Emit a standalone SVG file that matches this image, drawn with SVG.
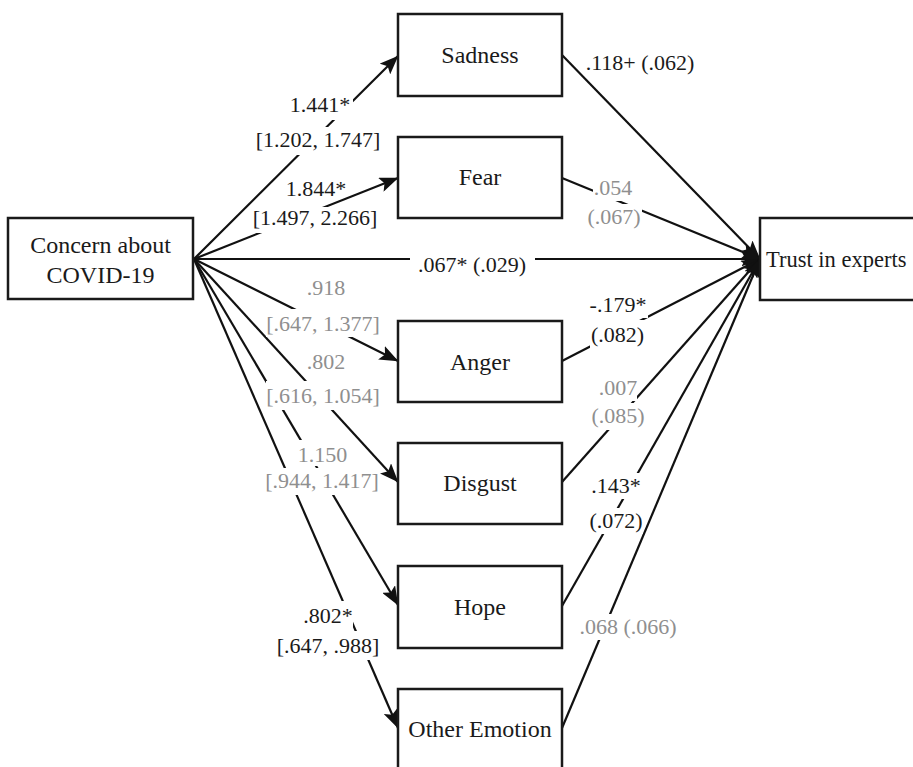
<svg xmlns="http://www.w3.org/2000/svg" width="913" height="767" viewBox="0 0 913 767">
<defs>
<style>
.box{fill:#fff;stroke:#1a1a1a;stroke-width:2.5}
.nl{font-family:"Liberation Serif","Times New Roman",serif;font-size:24px;fill:#1a1a1a;text-anchor:middle}
.el{font-family:"Liberation Serif","Times New Roman",serif;font-size:22px;text-anchor:middle}
.sig{fill:#1a1a1a}
.ns{fill:#8f8f8f}
.conn line{stroke:#111;stroke-width:2.2;marker-end:url(#ah)}
.bg{fill:#fff}
</style>
<marker id="ah" markerUnits="userSpaceOnUse" viewBox="0 0 19 15" markerWidth="19" markerHeight="15" refX="18.5" refY="7.5" orient="auto">
<path d="M0,0 L19,7.5 L0,15 L4,7.5 Z" fill="#111"/>
</marker>
</defs>
<rect width="913" height="767" fill="#fff"/>
<g id="connectors" class="conn">
<line x1="194" y1="259" x2="398" y2="56"/>
<line x1="194" y1="259" x2="398" y2="178"/>
<line x1="194" y1="259" x2="760" y2="259"/>
<line x1="194" y1="259" x2="398" y2="361"/>
<line x1="194" y1="259" x2="398" y2="482"/>
<line x1="194" y1="259" x2="398" y2="605"/>
<line x1="194" y1="259" x2="398" y2="728"/>
<line x1="562" y1="55" x2="760" y2="259"/>
<line x1="562" y1="178" x2="760" y2="259"/>
<line x1="562" y1="361" x2="760" y2="259"/>
<line x1="562" y1="482" x2="760" y2="259"/>
<line x1="562" y1="606" x2="760" y2="259"/>
<line x1="562" y1="728" x2="760" y2="259"/>
</g>
<g id="edge-labels">
<rect class="bg" x="287" y="94" width="66" height="26"/>
<text class="el sig" x="320" y="112">1.441*</text>
<rect class="bg" x="253" y="127" width="130" height="28"/>
<text class="el sig" x="318" y="147">[1.202, 1.747]</text>
<rect class="bg" x="285" y="178" width="57" height="21"/>
<text class="el sig" x="316" y="196">1.844*</text>
<rect class="bg" x="252" y="207" width="126" height="26"/>
<text class="el sig" x="315" y="225">[1.497, 2.266]</text>
<rect class="bg" x="410" y="251" width="125" height="27"/>
<text class="el sig" x="472" y="272">.067* (.029)</text>
<text class="el sig" x="640" y="70">.118+ (.062)</text>
<rect class="bg" x="593" y="175" width="40" height="26"/>
<text class="el ns" x="613" y="195">.054</text>
<rect class="bg" x="586" y="204" width="56" height="26"/>
<text class="el ns" x="614" y="224">(.067)</text>
<rect class="bg" x="305" y="275" width="42" height="26"/>
<text class="el ns" x="326" y="295">.918</text>
<rect class="bg" x="266" y="309" width="114" height="28"/>
<text class="el ns" x="323" y="331">[.647, 1.377]</text>
<rect class="bg" x="305" y="349" width="42" height="26"/>
<text class="el ns" x="326" y="369">.802</text>
<rect class="bg" x="266" y="381" width="114" height="29"/>
<text class="el ns" x="323" y="403">[.616, 1.054]</text>
<rect class="bg" x="296" y="440" width="53" height="26"/>
<text class="el ns" x="322.5" y="462">1.150</text>
<rect class="bg" x="265" y="468" width="114" height="27"/>
<text class="el ns" x="322" y="488">[.944, 1.417]</text>
<rect class="bg" x="588" y="292" width="60" height="26"/>
<text class="el sig" x="618" y="312">-.179*</text>
<rect class="bg" x="590" y="320" width="55" height="28"/>
<text class="el sig" x="617.5" y="342">(.082)</text>
<rect class="bg" x="599" y="375" width="38" height="26"/>
<text class="el ns" x="618" y="395">.007</text>
<rect class="bg" x="590" y="403" width="56" height="27"/>
<text class="el ns" x="618" y="423">(.085)</text>
<rect class="bg" x="591" y="473" width="50" height="26"/>
<text class="el sig" x="616" y="493">.143*</text>
<rect class="bg" x="589" y="508" width="54" height="26"/>
<text class="el sig" x="616" y="528">(.072)</text>
<rect class="bg" x="579" y="614" width="98" height="26"/>
<text class="el ns" x="628" y="634">.068 (.066)</text>
<rect class="bg" x="303" y="601" width="50" height="28"/>
<text class="el sig" x="328" y="623">.802*</text>
<rect class="bg" x="276" y="631" width="104" height="29"/>
<text class="el sig" x="328" y="653">[.647, .988]</text>
</g>
<g id="node-concern">
<rect class="box" x="8" y="218" width="185" height="81"/>
<text class="nl" x="100.5" y="253">Concern about</text>
<text class="nl" x="100.5" y="283">COVID-19</text>
</g>
<g id="node-trust">
<rect class="box" x="760" y="218" width="170" height="82"/>
<text class="nl" x="766" y="267" style="text-anchor:start;font-size:22.5px">Trust in experts</text>
</g>
<g id="node-sadness">
<rect class="box" x="398" y="14" width="164" height="82"/>
<text class="nl" x="480" y="63">Sadness</text>
</g>
<g id="node-fear">
<rect class="box" x="398" y="137" width="164" height="81"/>
<text class="nl" x="480" y="185">Fear</text>
</g>
<g id="node-anger">
<rect class="box" x="398" y="321" width="164" height="81"/>
<text class="nl" x="480" y="370">Anger</text>
</g>
<g id="node-disgust">
<rect class="box" x="398" y="443" width="164" height="81"/>
<text class="nl" x="480" y="491">Disgust</text>
</g>
<g id="node-hope">
<rect class="box" x="398" y="566" width="164" height="82"/>
<text class="nl" x="480" y="615">Hope</text>
</g>
<g id="node-other">
<rect class="box" x="398" y="689" width="164" height="95"/>
<text class="nl" x="480" y="737">Other Emotion</text>
</g>
</svg>
